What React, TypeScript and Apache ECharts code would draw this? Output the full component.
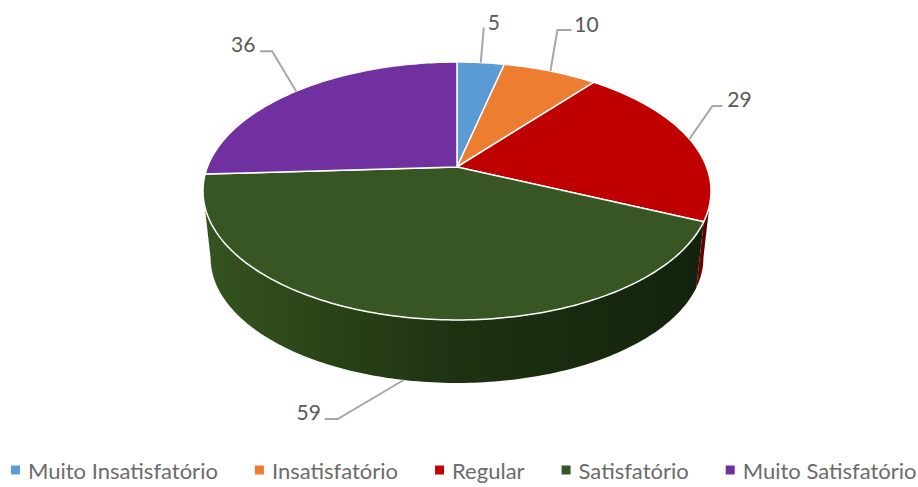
import React, { useEffect, useRef } from "react";
import * as echarts from "echarts";

const categories = ["Muito Insatisfatório", "Insatisfatório", "Regular", "Satisfatório", "Muito Satisfatório"];
const values = [5, 10, 29, 59, 36];
const colors = ["#5B9BD5", "#ED7D31", "#C00000", "#375623", "#7030A0"];
const sideColors = [
  ["#3d6a94", "#2d4e6d"],
  ["#a85823", "#7c411a"],
  ["#7a0000", "#4d0000"],
  ["#35541f", "#14220c"],
  ["#4e2270", "#391952"],
];
// leader-line offsets from the slice anchor, then label offset from the last elbow
const leaderOffsets = [
  [[3, -35]],
  [[7, -41], [21, -41]],
  [[23, -33], [33, -33]],
  [[-66, 39], [-79, 39]],
  [[-24, -40], [-36, -40]],
];
const labelOffsets = [[10, -6], [15, -7], [17, -7], [-16, -7], [-17, -8]];

const total = values.reduce((a, b) => a + b, 0);
const K = -0.186;
const CX = 457;
const BX = 249.6;
const AY = 124.5;
const TOP_CY = 167;
const BOTTOM_SCALE = 0.97;
const BOTTOM_CY = 234.6;
const SIDE_FROM = 100.7;
const SIDE_TO = 259.3;

const project = (deg: number, bottom: boolean): number[] => {
  const t = (deg * Math.PI) / 180;
  const x = Math.sin(t);
  const y = -Math.cos(t);
  const d = 1 + K * y;
  const s = bottom ? BOTTOM_SCALE : 1;
  return [CX + (s * BX * x) / d, (bottom ? BOTTOM_CY : TOP_CY) + (s * AY * y) / d];
};

const arc = (from: number, to: number, bottom: boolean): number[][] => {
  const n = Math.max(2, Math.ceil(Math.abs(to - from)));
  const pts: number[][] = [];
  for (let i = 0; i <= n; i++) pts.push(project(from + ((to - from) * i) / n, bottom));
  return pts;
};

const makeRenderItem = (index: number) => (_params: any, api: any) => {
  const before = values.slice(0, index).reduce((a, b) => a + b, 0);
  const value = api.value(0) as number;
  const start = (before / total) * 360;
  const end = ((before + value) / total) * 360;
  const mid = (start + end) / 2;
  const children: any[] = [];

  const sStart = Math.max(start, SIDE_FROM);
  const sEnd = Math.min(end, SIDE_TO);
  if (sEnd > sStart) {
    children.push({
      type: "polygon",
      shape: { points: [...arc(sStart, sEnd, false), ...arc(sEnd, sStart, true)] },
      style: {
        fill: new echarts.graphic.LinearGradient(
          index === 3 ? 203 : 696,
          0,
          711,
          0,
          index === 3
            ? [
                { offset: 0, color: "#35541f" },
                { offset: 0.5, color: "#1e3211" },
                { offset: 1, color: "#14220c" },
              ]
            : [
                { offset: 0, color: sideColors[index][0] },
                { offset: 1, color: sideColors[index][1] },
              ],
          true as any
        ),
      },
    });
  }

  children.push({
    type: "polygon",
    shape: { points: [[CX, TOP_CY], ...arc(start, end, false)] },
    style: { fill: colors[index], stroke: "#ffffff", lineWidth: 1.5, lineJoin: "round" },
  });

  const anchor = project(mid, index === 3);
  const pts = [anchor, ...leaderOffsets[index].map((o) => [anchor[0] + o[0], anchor[1] + o[1]])];
  children.push({
    type: "polyline",
    shape: { points: pts },
    style: { stroke: "#a6a6a6", lineWidth: 2, fill: "none" },
    z2: 5,
  });
  const last = pts[pts.length - 1];
  children.push({
    type: "text",
    style: {
      text: String(value),
      x: last[0] + labelOffsets[index][0],
      y: last[1] + labelOffsets[index][1],
      align: "center",
      verticalAlign: "middle",
      font: "21px Lato",
      fill: "#595959",
    },
    z2: 6,
  });
  return { type: "group", children };
};

export default function App() {
  const ref = useRef<HTMLDivElement>(null);
  useEffect(() => {
    const chart = echarts.init(ref.current!, undefined, { renderer: "svg" });
    chart.setOption({
      animation: false,
      backgroundColor: "#ffffff",
      legend: {
        data: categories,
        left: 11,
        top: 459,
        icon: "rect",
        itemWidth: 9,
        itemHeight: 9,
        itemGap: 37,
        padding: 0,
        textStyle: { fontFamily: "Lato", fontSize: 22, color: "#6b6b6b", padding: [0, 0, 0, 3] },
      },
      series: categories.map((name, i) => ({
        type: "custom",
        name,
        coordinateSystem: "none",
        silent: true,
        itemStyle: { color: colors[i] },
        data: [[values[i]]],
        renderItem: makeRenderItem(i),
      })),
    });
    return () => chart.dispose();
  }, []);
  return <div ref={ref} style={{ position: "absolute", left: 0, top: 0, width: 918, height: 487 }} />;
}
